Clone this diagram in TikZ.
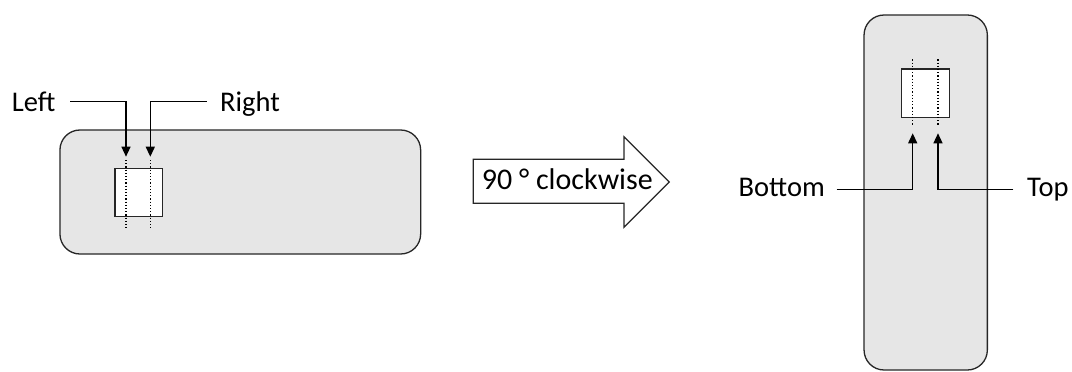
\documentclass[tikz,border=0pt]{standalone}
\usepackage{fontspec}
\setmainfont{Carlito}
\usetikzlibrary{arrows.meta}
\definecolor{panelgray}{HTML}{E6E6E6}
\tikzset{
  panel/.style={draw=black!85, line width=1.3pt, fill=panelgray, rounded corners=20pt, inner sep=0pt},
  chip/.style={draw=black!85, line width=1.2pt, fill=white, inner sep=0pt},
  guide/.style={dotted, line width=1.2pt},
  conn/.style={line width=1.3pt, -{Triangle[length=10pt,width=9pt]}},
  lbl/.style={inner sep=0pt, font=\fontsize{28.5}{33}\selectfont},
  bigarrow/.style={draw=black!85, line width=1.2pt, fill=white}
}
\begin{document}
\begin{tikzpicture}[x=1pt,y=-1pt]
\useasboundingbox (0,0) rectangle (1072,372);
% left panel
\node[panel, minimum width=360.7pt, minimum height=124pt] (LP) at (240.3,192) {};
\node[chip, minimum width=47.7pt, minimum height=48.4pt] (LC) at (138.9,192.5) {};
\draw[guide] (126,160) -- (126,228.3);
\draw[guide] (150.3,160) -- (150.3,228.3);
\node[lbl, anchor=base west] (Ltxt) at (11.7,111.7) {Left};
\node[lbl, anchor=base west] (Rtxt) at (220,111.7) {Right};
\coordinate (Ls) at (70,101.7);
\coordinate (Le) at (126,156.7);
\coordinate (Rs) at (206.7,101.7);
\coordinate (Re) at (150.3,156.7);
\draw[conn] (Ls) -| (Le);
\draw[conn] (Rs) -| (Re);
% big arrow
\draw[bigarrow] (473.3,159.3) -- (624,159.3) -- (624,136.7) -- (669.3,182) -- (624,227.3) -- (624,203.3) -- (473.3,203.3) -- cycle;
\node[lbl, anchor=base west, font=\fontsize{30}{35}\selectfont] (Atxt) at (481.7,189) {90 ° clockwise};
% right panel
\node[panel, minimum width=123.3pt, minimum height=355pt] (RP) at (925.7,192.5) {};
\node[chip, minimum width=48pt, minimum height=48.7pt] (RC) at (925.3,93.3) {};
\draw[guide] (912.7,59.3) -- (912.7,125);
\draw[guide] (938,59.3) -- (938,125);
\node[lbl, anchor=base east] (Btxt) at (825,196.5) {Bottom};
\node[lbl, anchor=base west] (Ttxt) at (1027,196.5) {Top};
\coordinate (Bs) at (836.7,189.3);
\coordinate (Be) at (912.7,133.3);
\coordinate (Ts) at (1013.3,189.3);
\coordinate (Te) at (938,133.3);
\draw[conn] (Bs) -| (Be);
\draw[conn] (Ts) -| (Te);
\end{tikzpicture}
\end{document}
